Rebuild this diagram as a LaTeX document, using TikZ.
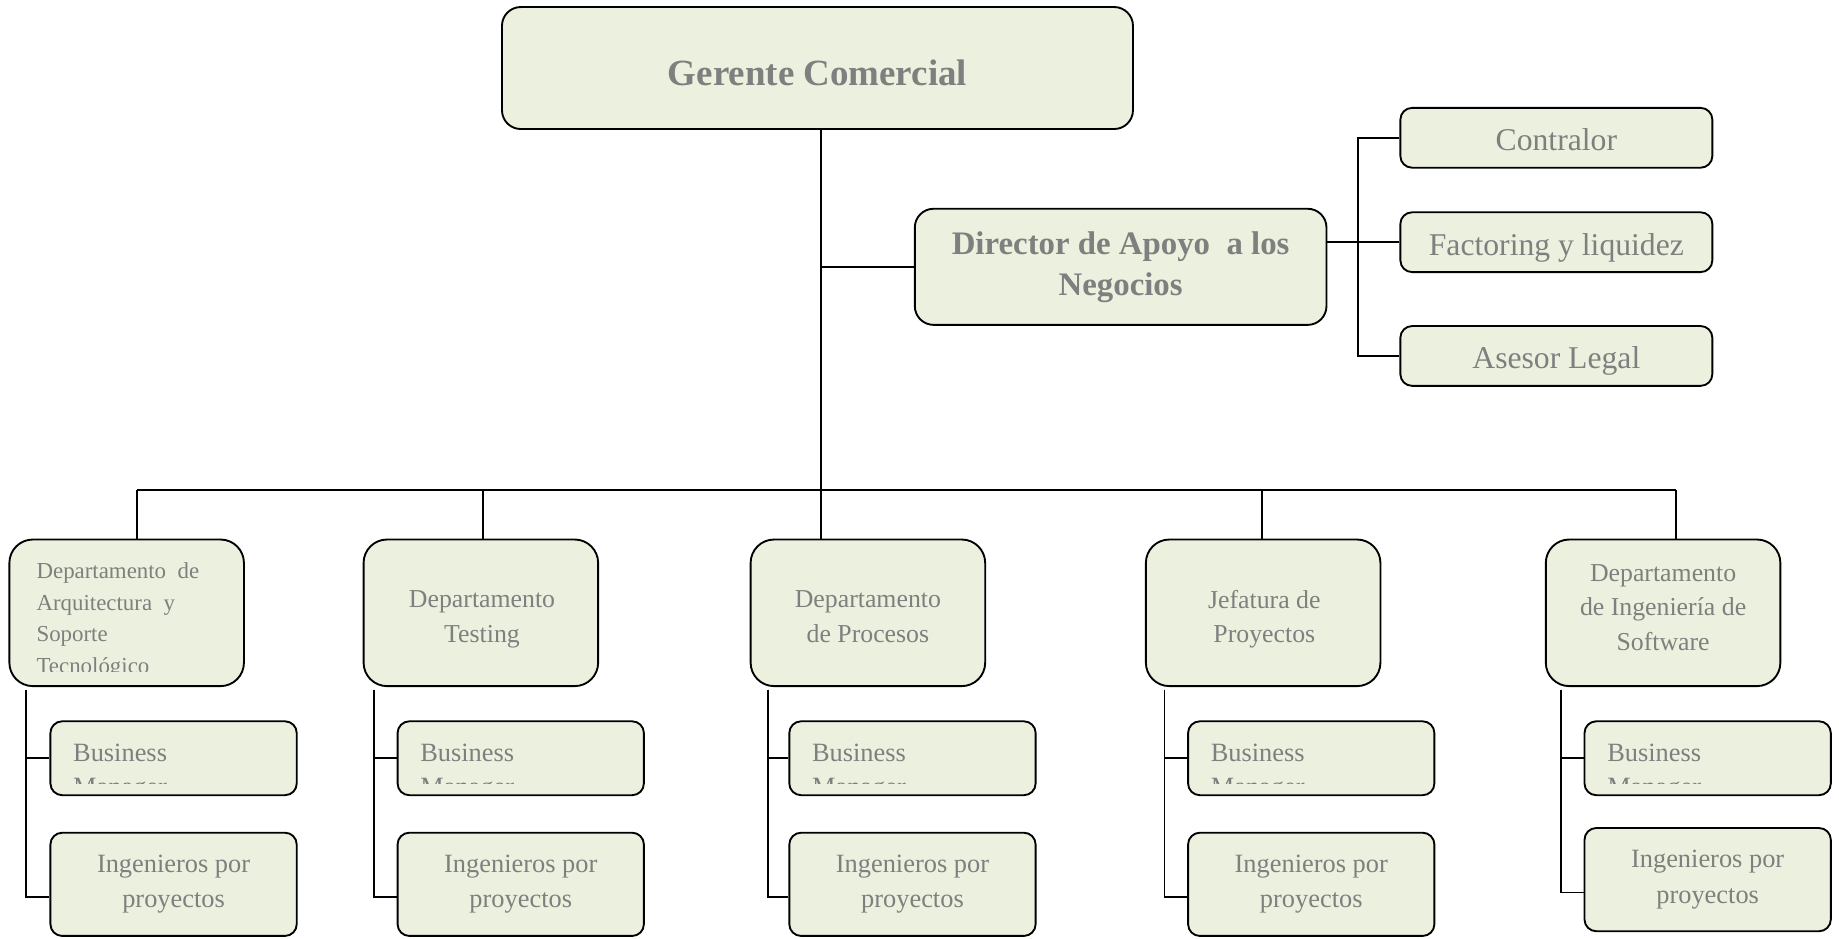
\documentclass[tikz,border=0pt]{standalone}
\usepackage{fontspec}
\setmainfont{Liberation Serif}
\usepackage{tikz}
\usetikzlibrary{positioning, calc}

\begin{document}
\begin{tikzpicture}[x=1pt, y=-1pt,
  caja/.style={draw=black, line width=1.6pt, fill=orgFill, rounded corners=#1, inner sep=0pt, text=orgText, align=center},
  caja/.default=12pt,
  apoyo/.style={caja=10pt, minimum width=266pt, minimum height=51pt, text height=22pt, text depth=0pt, font=\fontsize{27}{32}\selectfont},
  depto/.style={caja=20pt, minimum width=200pt, minimum height=125pt},
  deptxt/.style={inner sep=0pt, text=orgText, align=center, font=\fontsize{22}{29.5}\selectfont},
  subcaja/.style={caja=10pt, minimum width=210pt, font=\fontsize{22.5}{30}\selectfont},
  enlace/.style={line width=1.4pt}]
\definecolor{orgFill}{HTML}{EBF1DE}
\definecolor{orgText}{HTML}{7F7F7F}
\useasboundingbox (0,0) rectangle (1568,800);
% top levels
\node[caja=16pt, minimum width=538pt, minimum height=104pt, text height=29pt, text depth=0pt, font=\bfseries\fontsize{31.5}{36}\selectfont] (ger) at (697,58) {Gerente Comercial};
\node[caja=16pt, minimum width=351pt, minimum height=99pt, font=\bfseries\fontsize{28}{35}\selectfont] (dir) at (955.5,227.5) {Director de Apoyo\ \ a los\\Negocios};
\node[apoyo] (con) at (1327,117.5) {Contralor};
\node[apoyo] (fac) at (1327,206.5) {Factoring y liquidez};
\node[apoyo] (ase) at (1327,303.5) {Asesor Legal};
% departments
\node[depto] (dep1) at (108,522.5) {};
\node[depto] (dep2) at (410,522.5) {};
\node[depto] (dep3) at (740,522.5) {};
\node[depto] (dep4) at (1077,522.5) {};
\node[depto] (dep5) at (1418,522.5) {};
\node[deptxt] (dep2t) at (411,528) {Departamento\\Testing};
\node[deptxt] (dep3t) at (740,526) {Departamento\\de Procesos};
\node[deptxt] (dep4t) at (1078,528) {Jefatura de\\Proyectos};
\node[deptxt] (dep5t) at (1418,518) {Departamento\\de Ingeniería de\\Software};
\begin{scope}
  \clip (dep1.north west) rectangle ([yshift=13pt]dep1.south east);
  \node[anchor=west, align=left, inner sep=0pt, text=orgText, font=\fontsize{19.5}{27}\selectfont] (dep1t) at (31,529) {Departamento\ \ de\\Arquitectura\ \ y\\Soporte\\Tecnológico};
\end{scope}
% connectors
\coordinate (tronco) at ([xshift=3pt]ger.south);
\coordinate (brk) at (1158,0);
\draw[enlace] (tronco) -- (tronco |- dep3.north);
\draw[enlace] (tronco |- dir.west) -- (dir.west);
\draw[enlace] (dir.east |- fac.west) -- (fac.west);
\draw[enlace] (con.west) -| (brk |- ase.west) -- (ase.west);
\foreach \i/\gx/\sx/\bx/\iy in {1/117/22/148/754, 2/412/319/444/754, 3/700/655/778/754, 4/1076/993/1118/754, 5/1429/1331/1456/750}{
  \node[subcaja, minimum height=63pt] (bm\i) at (\bx,646.5) {};
  \node[subcaja, minimum height=88pt] (ing\i) at (\bx,\iy) {Ingenieros por\\proyectos};
  \coordinate (bus\i) at (\gx,418);
  \coordinate (ram\i) at (\sx,588);
  \draw[enlace] (bus\i) -- (bus\i |- dep\i.north);
  \draw[enlace] (ram\i) |- (bm\i.west);
  \draw[enlace] (ram\i) |- ([yshift=-11pt]ing\i.west);
  \begin{scope}
    \clip (bm\i.north west) rectangle ([yshift=11pt]bm\i.south east);
    \node[anchor=west, align=left, inner sep=0pt, text=orgText, font=\fontsize{22.5}{29}\selectfont] (bmt\i) at ([xshift=20pt, yshift=-12pt]bm\i.west) {Business\\Manager};
  \end{scope}
}
\draw[enlace] (bus1) -- (bus5);
\end{tikzpicture}
\end{document}
